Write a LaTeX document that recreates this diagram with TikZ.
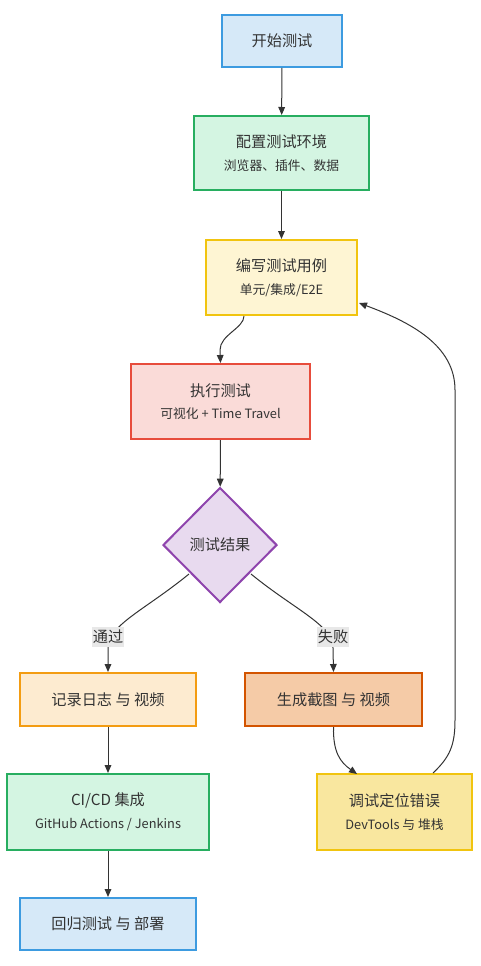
\documentclass[tikz,border=0pt]{standalone}
\usepackage{fontspec}
\setmainfont{Noto Sans CJK SC}
\usetikzlibrary{calc,arrows.meta,shapes.geometric}
\definecolor{txt}{HTML}{333333}
\definecolor{ln}{HTML}{333333}
\definecolor{bluef}{HTML}{D6E9F8}\definecolor{blued}{HTML}{3D9BE0}
\definecolor{greenf}{HTML}{D4F5E2}\definecolor{greend}{HTML}{27AE60}
\definecolor{yelf}{HTML}{FEF5D3}\definecolor{yeld}{HTML}{F1C40F}
\definecolor{redf}{HTML}{FADBD8}\definecolor{redd}{HTML}{E74C3C}
\definecolor{purf}{HTML}{E8DAEF}\definecolor{purd}{HTML}{8E44AD}
\definecolor{orf}{HTML}{FDEBD0}\definecolor{ord}{HTML}{F39C12}
\definecolor{dorf}{HTML}{F5CBA7}\definecolor{dord}{HTML}{D35400}
\definecolor{goldf}{HTML}{F9E79F}
\definecolor{lblbg}{HTML}{E8E8E8}
\newcommand{\subtxt}[1]{{\fontsize{9.6}{11.5}\selectfont #1}}
\tikzset{
  box/.style={draw, line width=1.5pt, text=txt, align=center, inner sep=0pt, font=\fontsize{11.4}{14}\selectfont},
  conn/.style={draw=ln, line width=0.75pt, -{Triangle[length=6pt,width=5pt]}},
  lbl/.style={fill=lblbg, text=txt, inner xsep=0.5pt, inner ysep=2.5pt, font=\fontsize{11.4}{14}\selectfont},
}
\begin{document}
\begin{tikzpicture}[x=0.75pt,y=-0.75pt]
\useasboundingbox (0,0) rectangle (480,966);
\fill[white] (0,0) rectangle (480,966);
\node[box, fill=bluef, draw=blued, minimum width=90pt, minimum height=39pt] (start) at (282,41) {开始测试};
\node[box, fill=greenf, draw=greend, minimum width=131.25pt, minimum height=55.5pt] (config) at (281.5,153) {配置测试环境\\[3pt]\subtxt{浏览器、插件、数据}};
\node[box, fill=yelf, draw=yeld, minimum width=113.25pt, minimum height=56.25pt] (write) at (281.5,277.5) {编写测试用例\\[3pt]\subtxt{单元/集成/E2E}};
\node[box, fill=redf, draw=redd, minimum width=134.25pt, minimum height=56.25pt] (exec) at (220.5,401.5) {执行测试\\[3pt]\subtxt{可视化 + Time Travel}};
\node[box, fill=purf, draw=purd, diamond, minimum width=85.5pt, minimum height=86.25pt] (res) at (220,545) {测试结果};
\node[box, fill=orf, draw=ord, minimum width=132pt, minimum height=39.75pt] (log) at (108,699.5) {记录日志 与 视频};
\node[box, fill=dorf, draw=dord, minimum width=132.75pt, minimum height=39.75pt] (shot) at (333.5,699.5) {生成截图 与 视频};
\node[box, fill=greenf, draw=greend, minimum width=151.5pt, minimum height=57pt] (ci) at (108,812) {CI/CD 集成\\[3pt]\subtxt{GitHub Actions / Jenkins}};
\node[box, fill=goldf, draw=yeld, minimum width=116.25pt, minimum height=57pt] (dbg) at (394.5,812) {调试定位错误\\[3pt]\subtxt{DevTools 与 堆栈}};
\node[box, fill=bluef, draw=blued, minimum width=132pt, minimum height=39pt] (reg) at (108,924) {回归测试 与 部署};

\draw[conn] (start) -- (config);
\draw[conn] (config) -- (write);
\coordinate (w1) at ($(write.south)+(-37.5,0)$);
\draw[conn] (w1) .. controls ($(w1)+(0,12)$) and (220,335) .. (220,350) -- (exec.north);
\draw[conn] (exec) -- (res);
\coordinate (d1) at (189,574);
\coordinate (d2) at (251,574);
\draw[conn] (d1) .. controls (145,610) and (108,625) .. (108,648) -- (log.north);
\draw[conn] (d2) .. controls (295,610) and (333,625) .. (333,648) -- (shot.north);
\node[lbl] (pass) at (108,637) {通过};
\node[lbl] (fail) at (333,637) {失败};
\draw[conn] (log) -- (ci);
\draw[conn] (ci) -- (reg);
\draw[conn] (shot.south) .. controls (333,752) and (340,762) .. (357,774);
\coordinate (b1) at ($(dbg.north)+(38.5,0)$);
\draw[conn] (b1) .. controls (450,757) and (455,745) .. (455,720) -- (455,390) .. controls (455,345) and (410,322) .. (359,303);
\end{tikzpicture}
\end{document}
